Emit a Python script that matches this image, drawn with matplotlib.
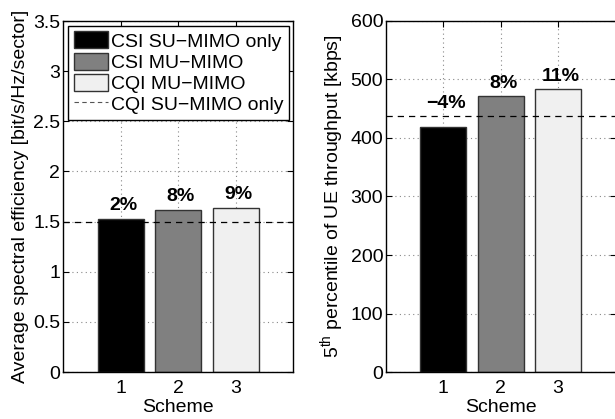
import numpy as np
import matplotlib
matplotlib.use("Agg")
import matplotlib.pyplot as plt
from matplotlib.patches import Patch
from matplotlib.lines import Line2D

plt.rcParams["font.family"] = ["Liberation Sans", "DejaVu Sans"]
plt.rcParams["font.size"] = 14
plt.rcParams["mathtext.fontset"] = "custom"
plt.rcParams["mathtext.rm"] = "Liberation Sans"
plt.rcParams["mathtext.it"] = "Liberation Sans"

schemes = [1, 2, 3]
labels = ["CSI SU\u2212MIMO only", "CSI MU\u2212MIMO", "CQI MU\u2212MIMO", "CQI SU\u2212MIMO only"]
colors = ["#000000", "#808080", "#f0f0f0"]

spec_eff = [1.53, 1.62, 1.64]
spec_eff_ref = 1.5
spec_eff_gain = ["2%", "8%", "9%"]

tput_5 = [418, 472, 484]
tput_5_ref = 437
tput_5_gain = ["\u22124%", "8%", "11%"]

fig = plt.figure(figsize=(6.15, 4.19), dpi=100)
ax1 = fig.add_axes([63/615, 47/419, 230/615, 351/419])
ax2 = fig.add_axes([386/615, 47/419, 229.5/615, 351/419])


def draw(ax, vals, ref, gains, ylim, yticks):
    ax.bar(schemes, vals, width=0.8, color=colors, edgecolor="#333333", linewidth=1, zorder=2)
    ax.axhline(ref, color="black", linestyle=(0, (5, 4)), linewidth=0.9, zorder=3)
    for x, v, g in zip(schemes, vals, gains):
        # label sits just above the bar or the reference line, whichever is higher
        ax.annotate(g, (x, max(v, ref)), xytext=(2, 6), textcoords="offset points",
                    ha="center", va="baseline", fontweight="bold", fontsize=14)
    ax.set_xlim(0, 4)
    ax.set_ylim(*ylim)
    ax.set_xticks(schemes)
    ax.set_yticks(yticks)
    ax.grid(True, linestyle=(0, (1, 3)), color="#888888", linewidth=0.8, zorder=0)
    ax.set_axisbelow(True)
    ax.tick_params(direction="in", top=True, right=True, length=4)
    ax.tick_params(axis="y", pad=2)
    ax.tick_params(axis="x", pad=6)
    ax.set_xlabel("Scheme", labelpad=1)
    for s in ax.spines.values():
        s.set_linewidth(1)


draw(ax1, spec_eff, spec_eff_ref, spec_eff_gain, (0, 3.5), np.arange(0, 3.51, 0.5))
ax1.set_yticklabels(["0", "0.5", "1", "1.5", "2", "2.5", "3", "3.5"])
ax1.set_ylabel("Average spectral efficiency [bit/s/Hz/sector]", labelpad=3)

draw(ax2, tput_5, tput_5_ref, tput_5_gain, (0, 600), np.arange(0, 601, 100))
ax2.set_ylabel("5$^{\\mathrm{th}}$ percentile of UE throughput [kbps]", labelpad=3)

handles = [Patch(facecolor=c, edgecolor="#333333", linewidth=1) for c in colors]
handles.append(Line2D([0], [0], color="#555555", linestyle=(0, (4, 3)), linewidth=0.8))
leg = ax1.legend(handles, labels, loc="upper left", bbox_to_anchor=(0.022, 0.987),
                 fancybox=False, framealpha=1, edgecolor="black", borderpad=0.3,
                 labelspacing=0.1, handlelength=1.75, handleheight=0.97,
                 handletextpad=0.15, borderaxespad=0, fontsize=14)
leg.get_frame().set_linewidth(1)

fig.savefig("out.png", dpi=100)
